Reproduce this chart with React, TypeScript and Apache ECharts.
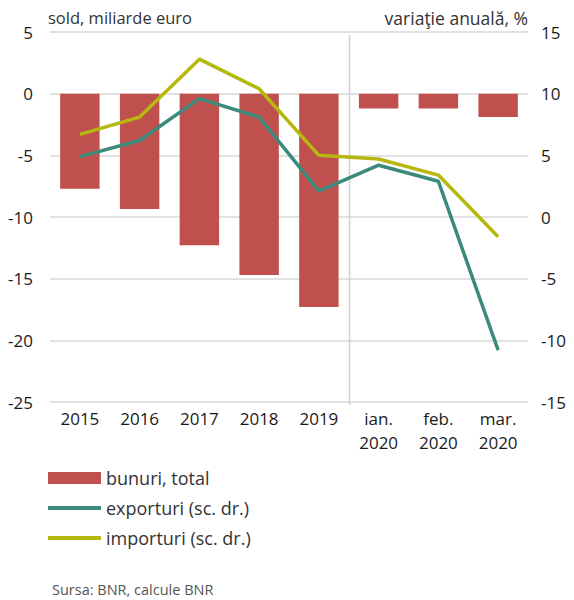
import React, { useEffect, useRef } from "react";
import * as echarts from "echarts";

const categories = ["2015", "2016", "2017", "2018", "2019", "ian.\n2020", "feb.\n2020", "mar.\n2020"];
const bunuri = [-7.7, -9.35, -12.3, -14.7, -17.3, -1.2, -1.2, -1.9];
const exporturi = [4.9, 6.2, 9.6, 8.1, 2.1, 4.2, 2.9, -10.8];
const importuri = [6.7, 8.1, 12.8, 10.4, 5.0, 4.7, 3.4, -1.6];
const leftTitle = "sold, miliarde euro";
const rightTitle = "variaţie anuală, %";
const source = "Sursa: BNR, calcule BNR";

const FONT = "'Liberation Sans Narrow', 'Open Sans', sans-serif";
const LIGHT = "'Open Sans', 'Noto Sans', sans-serif";
const LINE_ICON = "path://M0,0H0.5V0.01H0Z M0,4H54V8H0Z M0,12H0.5V12.01H0Z";

export default function App() {
  const ref = useRef<HTMLDivElement>(null);
  useEffect(() => {
    if (!ref.current) return;
    const chart = echarts.init(ref.current, null, { renderer: "svg" });
    chart.setOption({
      animation: false,
      grid: { left: 50, right: 46, top: 32, bottom: 198 },
      xAxis: {
        type: "category",
        data: categories,
        axisLine: { show: false },
        axisTick: { show: false },
        axisLabel: {
          fontFamily: FONT,
          fontSize: 17,
          color: "#1a1a1a",
          lineHeight: 24,
          margin: 4,
          interval: 0,
        },
      },
      yAxis: [
        {
          type: "value",
          min: -25,
          max: 5,
          interval: 5,
          axisLine: { show: false },
          axisTick: { show: false },
          splitLine: { lineStyle: { color: "#d9d9d9", width: 1.5 } },
          axisLabel: { fontFamily: FONT, fontSize: 17, color: "#1a1a1a", margin: 17 },
        },
        {
          type: "value",
          min: -15,
          max: 15,
          interval: 5,
          axisLine: { show: false },
          axisTick: { show: false },
          splitLine: { show: false },
          axisLabel: { fontFamily: FONT, fontSize: 17, color: "#1a1a1a", margin: 13 },
        },
      ],
      legend: {
        orient: "vertical",
        left: 48,
        top: 469,
        padding: 0,
        itemWidth: 53,
        itemHeight: 12,
        itemGap: 12,
        textStyle: { fontFamily: LIGHT, fontSize: 18, color: "#333" },
        data: [
          { name: "bunuri, total", icon: "rect" },
          { name: "exporturi (sc. dr.)", icon: LINE_ICON },
          { name: "importuri (sc. dr.)", icon: LINE_ICON },
        ],
      },
      series: [
        {
          name: "bunuri, total",
          type: "bar",
          data: bunuri,
          barWidth: "66%",
          itemStyle: { color: "#c0504d" },
          yAxisIndex: 0,
        },
        {
          name: "exporturi (sc. dr.)",
          type: "line",
          data: exporturi,
          yAxisIndex: 1,
          symbol: "none",
          lineStyle: { color: "#3b8a7c", width: 3.5 },
          itemStyle: { color: "#3b8a7c" },
        },
        {
          name: "importuri (sc. dr.)",
          type: "line",
          data: importuri,
          yAxisIndex: 1,
          symbol: "none",
          lineStyle: { color: "#b6b80e", width: 3.5 },
          itemStyle: { color: "#b6b80e" },
        },
      ],
    });
    const x1 = chart.convertToPixel({ xAxisIndex: 0 }, categories[4]) as number;
    const x2 = chart.convertToPixel({ xAxisIndex: 0 }, categories[5]) as number;
    const xd = Math.round((x1 + x2) / 2) + 0.5;
    chart.setOption({
      graphic: [
        {
          type: "line",
          shape: { x1: xd, y1: 35, x2: xd, y2: 405 },
          style: { stroke: "#d0d0d0", lineWidth: 1.5 },
          z: 0,
        },
        {
          type: "text",
          left: 48,
          top: 9,
          style: { text: leftTitle, fontFamily: LIGHT, fontSize: 16.5, fill: "#333" },
        },
        {
          type: "text",
          right: 46,
          top: 9,
          style: { text: rightTitle, fontFamily: LIGHT, fontSize: 17.5, fill: "#333" },
        },
        {
          type: "text",
          left: 52,
          top: 582,
          style: { text: source, fontFamily: LIGHT, fontSize: 14.5, fill: "#555" },
        },
      ],
    });
    return () => chart.dispose();
  }, []);
  return <div ref={ref} style={{ width: 574, height: 600, position: "absolute", left: 0, top: 0 }} />;
}
